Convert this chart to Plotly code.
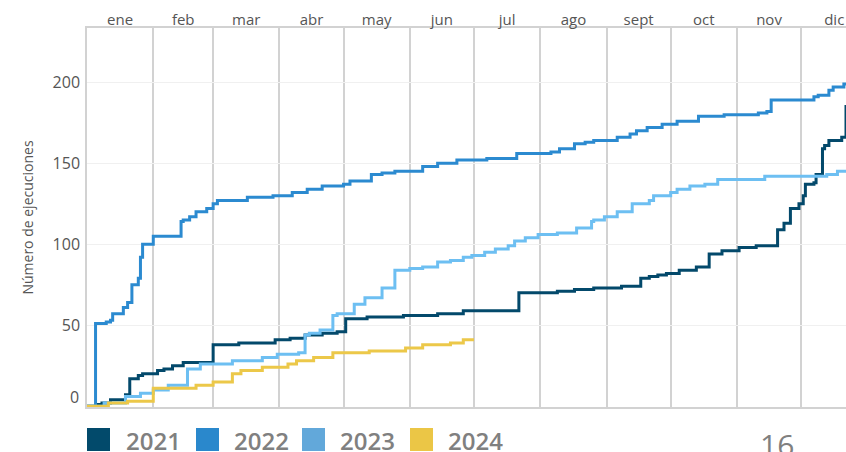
import plotly.graph_objects as go

# eje superior: meses
month_labels = ["ene", "feb", "mar", "abr", "may", "jun", "jul", "ago", "sept", "oct", "nov", "dic"]
month_lengths = [31, 28, 31, 30, 31, 30, 31, 31, 30, 31, 30, 31]

years = ["2021", "2022", "2023", "2024"]

# ejecuciones acumuladas: dia del año -> total
days_2021 = [0, 5, 7, 11, 18, 20, 24, 26, 33, 36, 40, 45, 59, 71, 88, 95, 102, 110, 117, 121,
             131, 148, 164, 176, 202, 220, 228, 237, 250, 259, 263, 267, 271, 277, 285, 291,
             297, 305, 313, 323, 326, 329, 333, 335, 336, 340, 341, 344, 345, 347, 353, 355, 364]
runs_2021 = [0, 1, 2, 4, 7, 17, 19, 20, 22, 23, 25, 27, 38, 39, 41, 42, 44, 45, 46, 54,
             55, 56, 57, 59, 70, 71, 72, 73, 74, 79, 80, 81, 82, 84, 86, 94,
             96, 98, 99, 109, 113, 122, 125, 130, 137, 138, 143, 159, 161, 164, 166, 185, 185]

days_2022 = [0, 4, 9, 11, 12, 17, 19, 21, 24, 25, 26, 31, 44, 45, 48, 51, 56, 59, 61, 75,
             87, 96, 103, 110, 120, 123, 133, 138, 144, 157, 164, 173, 187, 201, 217, 221,
             228, 233, 237, 248, 254, 257, 262, 269, 276, 286, 298, 314, 318, 320, 340, 342,
             347, 349, 354, 364]
runs_2022 = [0, 51, 52, 53, 57, 61, 64, 75, 79, 92, 100, 105, 114, 115, 117, 120, 122, 125, 127, 129,
             130, 132, 134, 136, 137, 139, 143, 144, 145, 148, 150, 152, 153, 156, 157, 159,
             162, 163, 164, 166, 168, 170, 172, 174, 176, 179, 180, 181, 182, 189, 191, 192,
             195, 197, 199, 199]

days_2023 = [0, 8, 18, 25, 31, 38, 47, 53, 68, 82, 89, 99, 102, 104, 109, 115, 117, 125, 130,
             138, 144, 151, 157, 164, 170, 176, 180, 186, 191, 197, 200, 205, 211, 220, 229,
             236, 237, 242, 248, 255, 263, 265, 273, 276, 282, 289, 295, 317, 346, 351, 364]
runs_2023 = [0, 2, 6, 8, 10, 13, 23, 26, 28, 30, 32, 33, 44, 45, 47, 56, 57, 63, 67,
             73, 84, 85, 86, 89, 90, 92, 93, 95, 97, 99, 102, 104, 106, 107, 110,
             114, 115, 117, 120, 125, 127, 130, 132, 134, 136, 137, 140, 142, 143, 145, 145]

days_2024 = [0, 10, 19, 31, 51, 59, 68, 72, 82, 94, 98, 106, 115, 132, 149, 157, 170, 176, 181]
runs_2024 = [0, 2, 3, 11, 13, 15, 20, 22, 24, 26, 28, 30, 33, 34, 36, 38, 39, 41, 41]

series = {
    "2021": (days_2021, runs_2021),
    "2022": (days_2022, runs_2022),
    "2023": (days_2023, runs_2023),
    "2024": (days_2024, runs_2024),
}
line_colors = {"2021": "#03496b", "2022": "#2b8ad0", "2023": "#6dbff2", "2024": "#ecc849"}
legend_colors = {"2021": "#024a6b", "2022": "#2a88cc", "2023": "#62a8da", "2024": "#ebc646"}

W, H = 846, 452
L, R, T, B = 87, 0, 28, 45
FONT = "Open Sans"


def px_x(x):
    # screen x -> paper x
    return (x - L) / (W - L - R)


def px_y(y):
    # screen y -> paper y
    return (H - B - y) / (H - T - B)


month_starts = []
s = 0
for n in month_lengths:
    month_starts.append(s)
    s += n
month_mids = [st + n / 2 for st, n in zip(month_starts, month_lengths)]

fig = go.Figure()
for yr in years:
    d, r = series[yr]
    fig.add_trace(go.Scatter(
        x=d, y=r, mode="lines", name=yr,
        line=dict(color=line_colors[yr], width=3, shape="hv"),
        showlegend=False, hoverinfo="skip",
    ))

fig.update_xaxes(
    range=[0, 355], side="top", automargin=False,
    tickmode="array", tickvals=month_mids, ticktext=month_labels,
    ticks="", showgrid=False, zeroline=False,
    showline=True, mirror=True, linecolor="#d2d2d2", linewidth=1.5,
    tickfont=dict(family=FONT, size=15, color="#555555"),
    ticklabelstandoff=-5,
    minor=dict(tickmode="array", tickvals=month_starts, showgrid=True,
               gridcolor="#d2d2d2", gridwidth=1.5, ticks=""),
)
fig.update_yaxes(
    range=[-0.5, 233.5], automargin=False,
    tickmode="array", tickvals=[50, 100, 150, 200],
    ticks="", showgrid=True, gridcolor="#f0f0f0", gridwidth=1, zeroline=False,
    showline=True, linecolor="#d2d2d2", linewidth=1.5,
    tickfont=dict(family=FONT, size=16, color="#555555"),
    ticklabelstandoff=2,
    title=dict(text="Número de ejecuciones", standoff=16,
               font=dict(family=FONT, size=14, color="#555555")),
)

# etiqueta 0 algo elevada
fig.add_annotation(xref="paper", yref="y", x=px_x(81), y=0, yshift=9,
                   text="0", showarrow=False, xanchor="right", yanchor="middle",
                   font=dict(family=FONT, size=16, color="#555555"))

# leyenda con cuadrados
sq_left = [87, 196, 302, 410]
txt_left = [124, 232, 338, 446]
for yr, x0, tx in zip(years, sq_left, txt_left):
    fig.add_shape(type="rect", xref="paper", yref="paper",
                  x0=px_x(x0), x1=px_x(x0 + 23), y0=px_y(451), y1=px_y(428),
                  fillcolor=legend_colors[yr], line=dict(width=0))
    fig.add_annotation(xref="paper", yref="paper", x=px_x(tx), y=px_y(440),
                       text=yr, showarrow=False, xanchor="left", yanchor="middle",
                       font=dict(family=FONT, size=24, color="#808080", weight=600))

# numero de pagina
fig.add_annotation(xref="paper", yref="paper", x=px_x(777), y=px_y(422),
                   text="16", showarrow=False, xanchor="center", yanchor="top",
                   font=dict(family=FONT, size=30, color="#808080"))

fig.update_layout(
    width=W, height=H,
    margin=dict(l=L, r=R, t=T, b=B),
    paper_bgcolor="white", plot_bgcolor="white",
)

# no default body margin, so the figure fills the window
fig.write_html("out.html", config={"displayModeBar": False},
               post_script="document.body.style.margin = '0';")
